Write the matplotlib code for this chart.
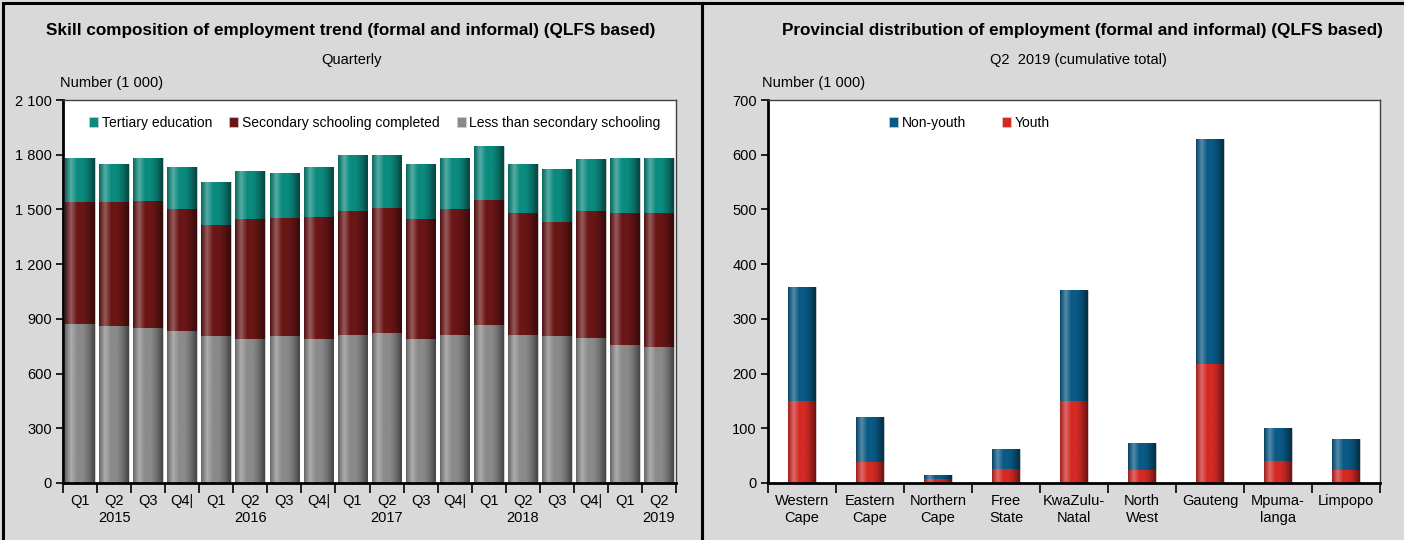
import numpy as np
import matplotlib
matplotlib.use("Agg")
import matplotlib.pyplot as plt
from matplotlib import font_manager
from matplotlib.colors import LinearSegmentedColormap, to_rgb
from matplotlib.patches import Rectangle

names = {f.name for f in font_manager.fontManager.ttflist}
FONT = ['Liberation Sans Narrow', 'Liberation Sans', 'DejaVu Sans']
FONT = [f for f in FONT if f in names] + ['DejaVu Sans']
plt.rcParams['font.family'] = FONT

# ---------------- data: left chart ----------------
quarters = ["Q1", "Q2\n2015", "Q3", "Q4|", "Q1", "Q2\n2016", "Q3", "Q4|",
            "Q1", "Q2\n2017", "Q3", "Q4|", "Q1", "Q2\n2018", "Q3", "Q4|",
            "Q1", "Q2\n2019"]
less_secondary = [872, 863, 850, 832, 804, 790, 804, 790, 813, 823, 790, 813,
                  867, 813, 804, 795, 758, 745]
secondary_completed = [668, 677, 695, 668, 608, 655, 648, 670, 680, 684, 655, 687,
                       683, 669, 626, 698, 720, 733]
tertiary = [242, 210, 237, 232, 237, 263, 247, 272, 305, 291, 305, 282,
            298, 268, 293, 281, 304, 304]

# ---------------- data: right chart ----------------
provinces = ["Western\nCape", "Eastern\nCape", "Northern\nCape", "Free\nState",
             "KwaZulu-\nNatal", "North\nWest", "Gauteng", "Mpuma-\nlanga", "Limpopo"]
youth = [150, 38, 8, 26, 150, 23, 218, 40, 23]
non_youth = [209, 83, 7, 36, 203, 50, 410, 61, 58]

W, H = 1404, 540
fig = plt.figure(figsize=(W / 100, H / 100), dpi=100)
fig.patch.set_facecolor('#d9d9d9')

def px(x, y):
    return x / W, 1 - y / H

# panel borders
for x0, x1 in [(3, 702), (702, 1410)]:
    fig.patches.append(Rectangle(px(x0, 545), (x1 - x0) / W, 542 / H,
                                 transform=fig.transFigure, fill=False,
                                 edgecolor='black', lw=2.2, zorder=0))

def shade(ax, bars, color):
    c = np.array(to_rgb(color))
    dark = c * 0.5
    light = np.clip(c + (1 - c) * 0.3, 0, 1)
    cmap = LinearSegmentedColormap.from_list('s', [c * 0.75, light, c, c, c * 0.8, dark])
    grad = np.linspace(0, 1, 64).reshape(1, -1)
    for b in bars:
        x, y = b.get_x(), b.get_y()
        w, h = b.get_width(), b.get_height()
        if h <= 0:
            continue
        im = ax.imshow(grad, cmap=cmap, extent=(x, x + w, y, y + h),
                       aspect='auto', zorder=2, interpolation='bilinear')
        im.set_clip_path(b)

def style_axes(ax):
    ax.set_facecolor('white')
    for s in ['left', 'bottom']:
        ax.spines[s].set_linewidth(2)
        ax.spines[s].set_color('black')
    for s in ['top', 'right']:
        ax.spines[s].set_linewidth(1)
        ax.spines[s].set_color('#404040')
    ax.tick_params(axis='y', direction='out', length=5, width=1.2, labelsize=10.5, pad=3)
    ax.tick_params(axis='x', which='major', length=0, labelsize=10.5, pad=8)
    ax.tick_params(axis='x', which='minor', direction='out', length=7, width=1.2)

def fmt(v):
    return f"{v:,}".replace(',', ' ')

# ---------------- left chart ----------------
ax1 = fig.add_axes([63 / W, 1 - 483 / H, (676 - 63) / W, (483 - 100) / H])
style_axes(ax1)
x = np.arange(len(quarters))
bw = 0.87
c_less, c_sec, c_ter = '#8a8a8a', '#6b1616', '#0b8a7e'
b1 = ax1.bar(x, less_secondary, bw, color=c_less, edgecolor='#d0d0d0', lw=0.6, zorder=1)
b2 = ax1.bar(x, secondary_completed, bw, bottom=less_secondary, color=c_sec,
             edgecolor='#d0d0d0', lw=0.6, zorder=1)
bot3 = np.array(less_secondary) + np.array(secondary_completed)
b3 = ax1.bar(x, tertiary, bw, bottom=bot3, color=c_ter, edgecolor='#d0d0d0', lw=0.6, zorder=1)
shade(ax1, b1, c_less)
shade(ax1, b2, c_sec)
shade(ax1, b3, c_ter)
ax1.set_xlim(-0.5, len(quarters) - 0.5)
ax1.set_ylim(0, 2100)
yt = np.arange(0, 2101, 300)
ax1.set_yticks(yt)
ax1.set_yticklabels([fmt(v) for v in yt])
ax1.set_xticks(x)
ax1.set_xticklabels(quarters, linespacing=1.25)
ax1.set_xticks(np.arange(-0.5, len(quarters)), minor=True)
h = [Rectangle((0, 0), 1, 1, facecolor=c, edgecolor='#d0d0d0', lw=0.5)
     for c in (c_ter, c_sec, c_less)]
ax1.legend(h, ["Tertiary education", "Secondary schooling completed",
               "Less than secondary schooling"], ncol=3, frameon=False,
           loc='upper left', bbox_to_anchor=(0.02, 0.995), fontsize=10,
           handlelength=0.65, handleheight=0.65, handletextpad=0.25,
           columnspacing=1.25, borderaxespad=0.6)

fig.text(*px(351, 30), "Skill composition of employment trend (formal and informal) (QLFS based)",
         ha='center', va='center', fontsize=12.3, fontweight='bold')
fig.text(*px(352, 60), "Quarterly", ha='center', va='center', fontsize=10.5)
fig.text(*px(60, 83), "Number (1 000)", ha='left', va='center', fontsize=10.5)

# ---------------- right chart ----------------
ax2 = fig.add_axes([768 / W, 1 - 483 / H, (1380 - 768) / W, (483 - 100) / H])
style_axes(ax2)
xp = np.arange(len(provinces))
bw2 = 0.4
c_y, c_ny = '#d42a24', '#0a5a86'
r1 = ax2.bar(xp, youth, bw2, color=c_y, edgecolor='#d0d0d0', lw=0.6, zorder=1)
r2 = ax2.bar(xp, non_youth, bw2, bottom=youth, color=c_ny, edgecolor='#d0d0d0', lw=0.6, zorder=1)
shade(ax2, r1, c_y)
shade(ax2, r2, c_ny)
ax2.set_xlim(-0.5, len(provinces) - 0.5)
ax2.set_ylim(0, 700)
yt2 = np.arange(0, 701, 100)
ax2.set_yticks(yt2)
ax2.set_yticklabels([fmt(v) for v in yt2])
ax2.set_xticks(xp)
ax2.set_xticklabels(provinces, linespacing=1.25)
ax2.set_xticks(np.arange(-0.5, len(provinces)), minor=True)
h2 = [Rectangle((0, 0), 1, 1, facecolor=c, edgecolor='#d0d0d0', lw=0.5) for c in (c_ny, c_y)]
ax2.legend(h2, ["Non-youth", "Youth"], ncol=2, frameon=False,
           loc='upper left', bbox_to_anchor=(0.175, 0.995), fontsize=10,
           handlelength=0.65, handleheight=0.65, handletextpad=0.25,
           columnspacing=2.6, borderaxespad=0.6)

fig.text(*px(1082, 30), "Provincial distribution of employment (formal and informal) (QLFS based)",
         ha='center', va='center', fontsize=12.3, fontweight='bold')
fig.text(*px(1078, 60), "Q2  2019 (cumulative total)", ha='center', va='center', fontsize=10.5)
fig.text(*px(762, 83), "Number (1 000)", ha='left', va='center', fontsize=10.5)

fig.savefig("out.png", dpi=100, facecolor=fig.get_facecolor())
